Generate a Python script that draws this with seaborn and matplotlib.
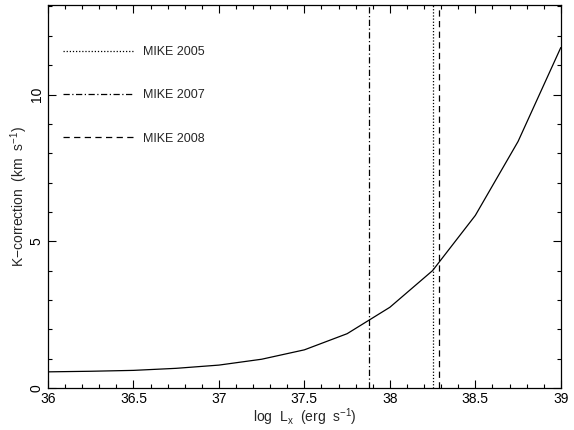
import matplotlib
matplotlib.use("Agg")
import matplotlib.pyplot as plt
import numpy as np
import pandas as pd
import seaborn as sns

# K-correction curve
log_lx = [36.0, 36.25, 36.5, 36.75, 37.0, 37.25, 37.5, 37.75, 38.0, 38.25, 38.5, 38.75, 39.0]
k_corr = [0.55, 0.57, 0.60, 0.67, 0.78, 0.98, 1.30, 1.85, 2.75, 4.00, 5.88, 8.40, 11.60]

# observation epochs (log Lx)
epoch_labels = ["MIKE 2005", "MIKE 2007", "MIKE 2008"]
epoch_lx = [38.25, 37.88, 38.29]
epoch_styles = [(0, (1, 1.5)), (0, (5, 2, 1, 2)), (0, (5, 3.5))]

sns.set_style("ticks")
plt.rcParams["font.family"] = ["Liberation Sans", "DejaVu Sans"]
plt.rcParams["mathtext.fontset"] = "custom"
plt.rcParams["mathtext.rm"] = "Liberation Sans"
plt.rcParams["mathtext.it"] = "Liberation Sans"

fig = plt.figure(figsize=(5.74, 4.30), dpi=100)
ax = fig.add_axes([0.0836, 0.0977, 0.8934, 0.8907])

df = pd.DataFrame({"lx": log_lx, "k": k_corr})
sns.lineplot(data=df, x="lx", y="k", ax=ax, color="black", linewidth=0.9)

for lab, x, ls in zip(epoch_labels, epoch_lx, epoch_styles):
    ax.axvline(x, color="black", linestyle=ls, linewidth=0.9, label=lab)

ax.set_xlim(36, 39)
ax.set_ylim(0, 13.05)
ax.set_xticks(np.arange(36, 39.01, 0.5))
ax.set_xticklabels(["36", "36.5", "37", "37.5", "38", "38.5", "39"])
ax.set_xticks(np.arange(36, 39.01, 0.1), minor=True)
ax.set_yticks([0, 5, 10])
ax.set_yticks(np.arange(0, 13.01, 1), minor=True)
for t in ax.get_yticklabels():
    t.set_rotation(90)
    t.set_va("center")

ax.tick_params(which="both", direction="in", top=True, right=True,
               colors="black", labelsize=10, width=0.8)
ax.tick_params(which="major", length=5.5, pad=3)
ax.tick_params(which="minor", length=3)
for s in ax.spines.values():
    s.set_visible(True)
    s.set_linewidth(0.9)
    s.set_color("black")

ax.set_xlabel(r"log  L$_\mathrm{x}$  (erg  s$^{-1}$)", fontsize=10, labelpad=0)
ax.set_ylabel(r"K$-$correction  (km  s$^{-1}$)", fontsize=10, labelpad=0)

ax.legend(loc="upper left", bbox_to_anchor=(0.005, 0.925), frameon=False,
          fontsize=9, handlelength=5.6, handletextpad=0.8, labelspacing=2.5,
          borderaxespad=0.6)

fig.savefig("out.png", dpi=100)
